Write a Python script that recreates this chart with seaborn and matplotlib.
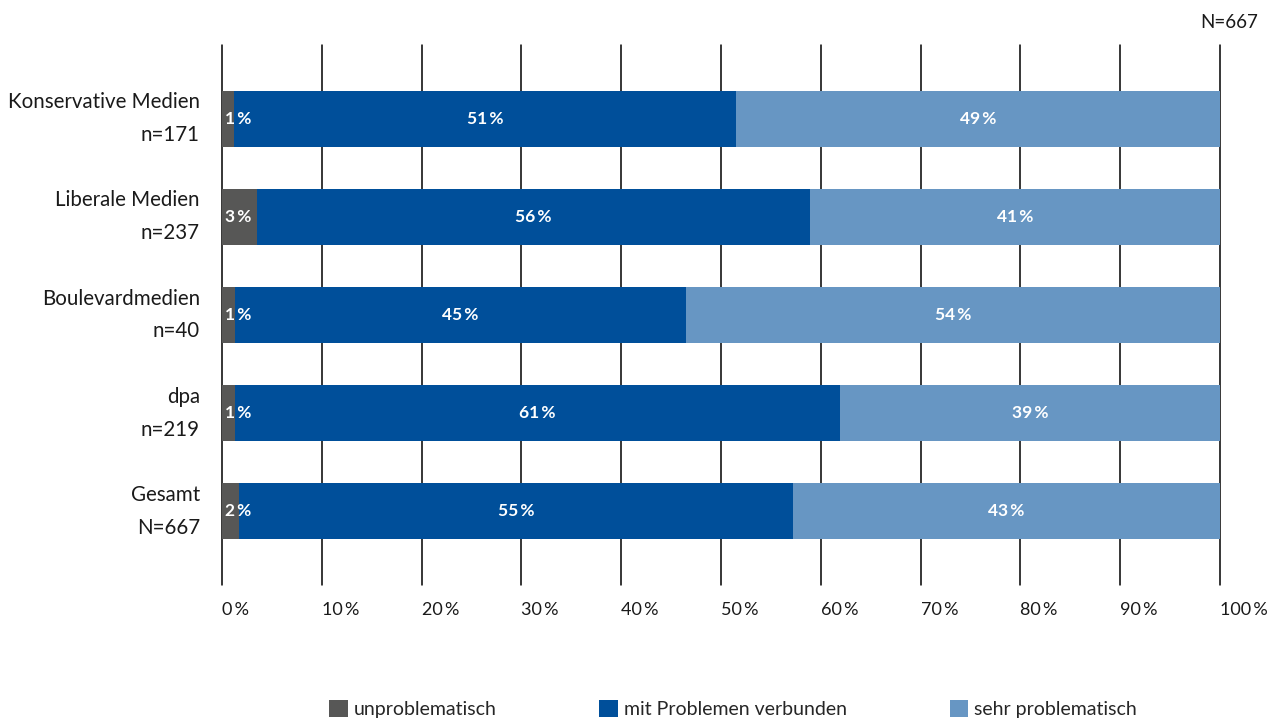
import matplotlib
matplotlib.use("Agg")
import matplotlib.pyplot as plt
from matplotlib.patches import Patch
import seaborn as sns
import pandas as pd
import numpy as np

categories = ["Konservative Medien\nn=171", "Liberale Medien\nn=237", "Boulevardmedien\nn=40",
              "dpa\nn=219", "Gesamt\nN=667"]
unproblematisch = [1.2, 3.5, 1.3, 1.3, 1.7]
mit_problemen = [50.3, 55.4, 45.2, 60.6, 55.5]
sehr_problematisch = [48.5, 41.1, 53.5, 38.1, 42.8]
labels_unprob = ["1\u2009%", "3\u2009%", "1\u2009%", "1\u2009%", "2\u2009%"]
labels_mit = ["51\u2009%", "56\u2009%", "45\u2009%", "61\u2009%", "55\u2009%"]
labels_sehr = ["49\u2009%", "41\u2009%", "54\u2009%", "39\u2009%", "43\u2009%"]
series_names = ["unproblematisch", "mit Problemen verbunden", "sehr problematisch"]
colors = ["#575756", "#004f9a", "#6796c3"]
xticks = list(range(0, 101, 10))
xticklabels = [f"{t}\u2009%" for t in xticks]

sns.set_theme(style="white")
plt.rcParams["font.family"] = ["Lato", "DejaVu Sans"]

df = pd.DataFrame({"cat": categories, "u": unproblematisch, "m": mit_problemen, "s": sehr_problematisch})
df["c1"] = df["u"]
df["c2"] = df["u"] + df["m"]
df["c3"] = df["u"] + df["m"] + df["s"]

fig = plt.figure(figsize=(12.79, 7.2), dpi=100)
ax = fig.add_axes([222 / 1279, 1 - 585 / 720, (1220 - 222) / 1279, (585 - 45) / 720])

for col, color in zip(["c3", "c2", "c1"], colors[::-1]):
    sns.barplot(data=df, y="cat", x=col, orient="h", color=color, width=0.57,
                saturation=1, ax=ax, zorder=3, edgecolor="none", linewidth=0)

ax.set_xlim(0, 100)
ax.set_ylim(4.75, -0.75)
ax.set_axisbelow(True)
ax.grid(False)
for t in xticks:
    ax.axvline(t, color="black", linewidth=1.1, zorder=1, clip_on=False)
for s in ax.spines.values():
    s.set_visible(False)
ax.set_xlabel("")
ax.set_ylabel("")
ax.set_xticks(xticks)
ax.set_xticklabels(xticklabels, ha="left", fontsize=13, color="#1a1a1a")
ax.tick_params(axis="x", length=0, pad=12)
ax.set_yticks(range(len(categories)))
ax.set_yticklabels(categories, fontsize=14.8, linespacing=1.8, ha="right", va="center",
                   color="#1a1a1a")
ax.tick_params(axis="y", length=0, pad=16)

for i in range(len(categories)):
    u, m, s = unproblematisch[i], mit_problemen[i], sehr_problematisch[i]
    ax.text(0.3, i, labels_unprob[i], color="white", fontweight="bold", fontsize=12.5,
            ha="left", va="center", zorder=5)
    ax.text(u + m / 2, i, labels_mit[i], color="white", fontweight="bold", fontsize=12.5,
            ha="center", va="center", zorder=5)
    ax.text(u + m + s / 2, i, labels_sehr[i], color="white", fontweight="bold", fontsize=12.5,
            ha="center", va="center", zorder=5)

fig.text(1258 / 1279, 1 - 22 / 720, "N=667", ha="right", va="center", fontsize=13.5, color="#1a1a1a")

handles = [Patch(facecolor=c, edgecolor="none") for c in colors]
fig.legend(handles, series_names, loc="center", bbox_to_anchor=(733 / 1279, 1 - 709 / 720),
           ncol=3, frameon=False, fontsize=14, handlelength=0.95, handleheight=0.95,
           handletextpad=0.3, columnspacing=5.3)

fig.savefig("out.png", dpi=100)
